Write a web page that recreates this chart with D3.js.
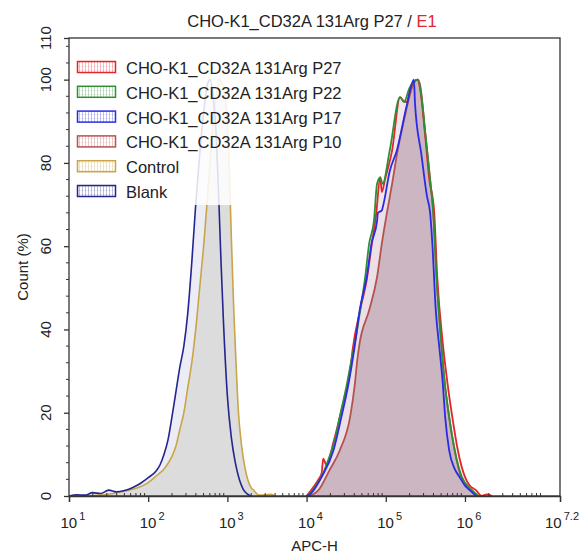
<!DOCTYPE html>
<html><head><meta charset="utf-8">
<script src="https://cdn.jsdelivr.net/npm/d3@7"></script>
<style>
html,body{margin:0;padding:0;background:#fff;}
text{font-family:"Liberation Sans",Arial,sans-serif;fill:#222;}
</style></head>
<body><svg id="chart" width="579" height="554"></svg>
<script>
// ---- data (x given as log10 of APC-H, y as Count %) ----
const seriesNames = ["CHO-K1_CD32A 131Arg P27","CHO-K1_CD32A 131Arg P22","CHO-K1_CD32A 131Arg P17","CHO-K1_CD32A 131Arg P10","Control","Blank"];
const seriesColors = ["#e3262c","#2f8f34","#2b2be6","#b5524f","#c9a548","#25258f"];

const p27Log   = [4.0,4.02,4.10,4.15,4.19,4.21,4.25,4.34,4.42,4.47,4.55,4.58,4.68,4.76,4.82,4.88,4.93,4.95,4.99,5.08,5.18,5.22,5.26,5.33,5.40,5.44,5.50,5.55,5.61,5.65,5.72,5.78,5.84,5.91,6.00,6.06,6.14,6.21,6.28,6.31,6.34];
const p27Count = [0,0.5,2.5,4,5.5,9,7.5,13,19,23,30,35,45,52,60,68,76.6,73,76,83,95.8,95,94.6,99,100,97,86,76,68.6,52.6,36.7,27,19,11,4.6,2.5,1.4,0,0.4,0.3,0];

const p22Log   = [4.0,4.05,4.12,4.20,4.28,4.35,4.43,4.50,4.58,4.61,4.68,4.74,4.79,4.85,4.89,4.93,4.96,5.05,5.18,5.23,5.30,5.41,5.45,5.50,5.56,5.60,5.64,5.70,5.74,5.80,5.87,5.96,6.09,6.17];
const p22Count = [0,0.8,2.5,5,9,13,20,26,34,36.7,45,52.6,60.6,66,75,76.5,75,83,95.8,94.6,98,100,96,87,76,68,53,37,28,19,11,4.6,1.4,0];

const p17Log   = [4.0,4.05,4.09,4.19,4.34,4.44,4.53,4.60,4.67,4.76,4.82,4.89,4.90,4.95,4.97,5.05,5.14,5.27,5.355,5.37,5.45,5.52,5.56,5.59,5.63,5.68,5.72,5.75,5.80,5.87,5.93,6.00,6.06,6.14];
const p17Count = [0,0.5,1.4,4.6,11,19,27,35,44.6,52.6,60.6,66,68,68.6,70,78,83,94.2,100,94,82,72,68,60,45,35,27,19,11,6.5,4.6,2.5,1.4,0];

const p10Log   = [4.0,4.09,4.15,4.29,4.42,4.55,4.61,4.64,4.67,4.79,4.89,4.95,5.02,5.08,5.15,5.25,5.33,5.40,5.43,5.50,5.56,5.60,5.64,5.70,5.74,5.80,5.87,5.95,6.07,6.15];
const p10Count = [0,0.5,1.4,6.2,11,19,27,32.6,36.7,44.6,52.6,60.6,68.6,75,83,92,98,100,99,87,76,68,53,37,28,19,11,4.6,1.4,0];

const controlLog   = [1.0,1.2,1.4,1.6,1.8,1.9,2.0,2.1,2.2,2.25,2.3,2.35,2.4,2.45,2.5,2.55,2.6,2.65,2.7,2.75,2.8,2.85,2.9,2.95,3.0,3.03,3.05,3.08,3.1,3.14,3.18,3.22,3.26,3.3,3.33,3.4,3.5,3.55,3.6];
const controlCount = [0,0,0.2,0.8,1.6,2.2,3.2,4.8,6.5,7.8,9.5,12,16,20,26,32,40,50,60,72,85,95,100,98,90,75,62,45,36,20,12,7,3.8,2.0,1.4,0.2,0.3,0.4,0];

const blankLog   = [1.0,1.1,1.2,1.3,1.4,1.5,1.6,1.7,1.8,1.9,2.0,2.1,2.15,2.2,2.25,2.3,2.35,2.4,2.45,2.5,2.55,2.6,2.65,2.7,2.75,2.78,2.82,2.86,2.89,2.92,2.95,3.0,3.05,3.1,3.15,3.2,3.25,3.3];
const blankCount = [0,0.3,0.2,0.8,0.6,1.4,1.0,1.3,2.0,3.0,4.4,6.0,7.5,10,13.5,19,25,31,36,44,56,70,82,92,99,100,96,86,72,56,42,24,14,8,4,1.6,0.5,0];

const xTickExp = [1,2,3,4,5,6,7.2];
const yTickValues = [0,20,40,60,80,100,110];
const titleMain = "CHO-K1_CD32A 131Arg P27 / ";
const titleTag = "E1";
const xLabel = "APC-H";
const yLabel = "Count (%)";

// ---- layout ----
const svg = d3.select("#chart");
const L = 69, R = 560, T = 38, B = 496;
const x = d3.scaleLog().domain([10, Math.pow(10, 7.2)]).range([L, R]);
const y = d3.scaleLinear().domain([0, 110]).range([B, T]);

function pts(logs, counts){ return logs.map((e,i)=>[Math.pow(10,e), counts[i]]); }
const line = d3.line().x(d=>x(d[0])).y(d=>y(d[1])).curve(d3.curveMonotoneX);
const area = d3.area().x(d=>x(d[0])).y0(y(0)).y1(d=>y(d[1])).curve(d3.curveMonotoneX);

const series = [
  {name:seriesNames[0], color:seriesColors[0], data:pts(p27Log,p27Count)},
  {name:seriesNames[1], color:seriesColors[1], data:pts(p22Log,p22Count)},
  {name:seriesNames[2], color:seriesColors[2], data:pts(p17Log,p17Count)},
  {name:seriesNames[3], color:seriesColors[3], data:pts(p10Log,p10Count)},
  {name:seriesNames[4], color:seriesColors[4], data:pts(controlLog,controlCount)},
  {name:seriesNames[5], color:seriesColors[5], data:pts(blankLog,blankCount)}
];

const plot = svg.append("g");
// fills
plot.append("path").datum(series[5].data).attr("d",area).attr("fill","#ececf6");
plot.append("path").datum(series[4].data).attr("d",area).attr("fill","#dadada").attr("fill-opacity",0.92);
[0,1,2].forEach(i=>plot.append("path").datum(series[i].data).attr("d",area).attr("fill","#e2d2dc").attr("fill-opacity",0.3));
plot.append("path").datum(series[3].data).attr("d",area).attr("fill","#c9b3bf").attr("fill-opacity",0.95);
// lines
[4,5,3,0,1,2].forEach(i=>{
  plot.append("path").datum(series[i].data).attr("d",line)
    .attr("fill","none").attr("stroke",series[i].color).attr("stroke-width",i<4?1.8:1.6)
    .attr("stroke-linejoin","round");
});

// legend background veil
svg.append("rect").attr("x",L+1).attr("y",T+1).attr("width",296).attr("height",205-T-1)
  .attr("fill","#fff").attr("fill-opacity",0.85);

// patterns for swatches
const defs = svg.append("defs");
series.forEach((s,i)=>{
  const p = defs.append("pattern").attr("id","pat"+i).attr("patternUnits","userSpaceOnUse")
    .attr("width",3).attr("height",4);
  p.append("rect").attr("width",3).attr("height",4).attr("fill","#fff");
  p.append("rect").attr("x",1).attr("width",1).attr("height",4).attr("fill",s.color).attr("fill-opacity",0.3);
  p.append("rect").attr("y",2).attr("width",3).attr("height",0.6).attr("fill",s.color).attr("fill-opacity",0.15);
});
const legend = svg.append("g");
series.forEach((s,i)=>{
  const by = 74 + i*24.8;
  legend.append("rect").attr("x",77.5).attr("y",by-12.5).attr("width",38).attr("height",11)
    .attr("fill","url(#pat"+i+")").attr("stroke",s.color).attr("stroke-width",1.5);
  legend.append("text").attr("x",126).attr("y",by).attr("font-size",16.5).text(s.name);
});

// frame
svg.append("rect").attr("x",L).attr("y",T).attr("width",R-L).attr("height",B-T)
  .attr("fill","none").attr("stroke","#333").attr("stroke-width",1.3);

// x axis
const xAxis = d3.axisBottom(x).tickValues(xTickExp.map(e=>Math.pow(10,e))).tickSize(6).tickFormat(()=> "");
const gx = svg.append("g").attr("transform",`translate(0,${B})`).call(xAxis);
gx.select(".domain").attr("stroke","#333").attr("stroke-width",1.3);
gx.selectAll(".tick line").attr("stroke","#333").attr("stroke-width",1.3);
const minor = [];
for(let k=1;k<=7;k++) for(let d=2;d<=9;d++){ const v=d*Math.pow(10,k); if(v<Math.pow(10,7.2)) minor.push(v); }
svg.append("g").selectAll("line").data(minor).join("line")
  .attr("x1",d=>x(d)).attr("x2",d=>x(d)).attr("y1",B).attr("y2",B-3)
  .attr("stroke","#333").attr("stroke-width",1);
xTickExp.forEach((e,i)=>{
  const cx = x(Math.pow(10,e));
  const t = svg.append("text").attr("y",528).attr("font-size",15);
  t.append("tspan").text("10");
  t.append("tspan").attr("dx",2).attr("dy",-8).attr("font-size",11).text(String(e));
  const w = t.node().getComputedTextLength();
  let start = cx - 8.5;
  if (start + w > 577) start = 577 - w;
  t.attr("x",start);
});
svg.append("text").attr("x",(L+R)/2).attr("y",551).attr("text-anchor","middle").attr("font-size",15).text(xLabel);

// y axis
const yAxis = d3.axisLeft(y).tickValues(yTickValues).tickSize(5).tickFormat(()=> "");
const gy = svg.append("g").attr("transform",`translate(${L},0)`).call(yAxis);
gy.select(".domain").remove();
gy.selectAll(".tick line").attr("stroke","#333").attr("stroke-width",1.3);
const yMinor = d3.range(4,110,4).filter(v=>v%20!==0);
svg.append("g").selectAll("line").data(yMinor).join("line")
  .attr("x1",L).attr("x2",L-3).attr("y1",d=>y(d)).attr("y2",d=>y(d))
  .attr("stroke","#333").attr("stroke-width",1);
yTickValues.forEach(v=>{
  svg.append("text").attr("transform",`translate(51,${y(v)}) rotate(-90)`)
    .attr("text-anchor","middle").attr("font-size",15).text(v);
});
svg.append("text").attr("transform",`translate(28,${(T+B)/2}) rotate(-90)`)
  .attr("text-anchor","middle").attr("font-size",15).text(yLabel);

// title
const title = svg.append("text").attr("x",312).attr("y",27).attr("text-anchor","middle").attr("font-size",16.5);
title.append("tspan").text(titleMain);
title.append("tspan").style("fill","#e3262c").text(titleTag);
</script></body></html>
